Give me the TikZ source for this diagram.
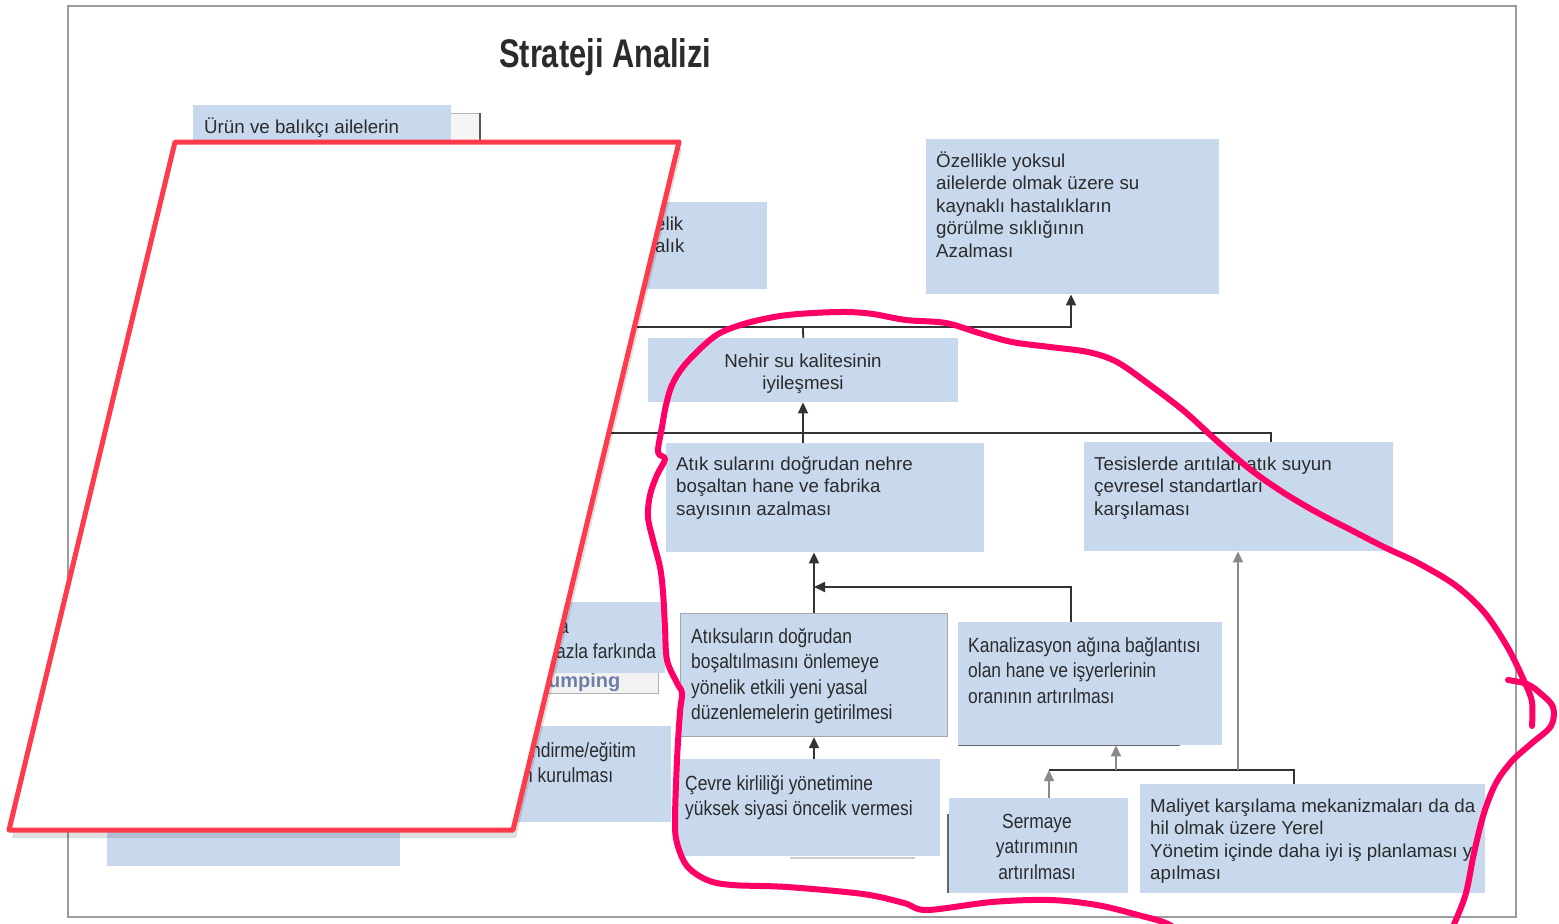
\documentclass[tikz,border=0pt]{standalone}
\usepackage{fontspec}
\setmainfont{Liberation Sans}
\newfontfamily\narrowfont[FakeStretch=0.85]{Liberation Sans}
\newfontfamily\titlefont[FakeStretch=0.77]{Liberation Sans}
\usetikzlibrary{arrows.meta}

% multi-line labels whose baseline is the baseline of their first line
\newcommand\leftrows[1]{\begin{tabular}[t]{@{}l@{}}#1\end{tabular}}
\newcommand\centerrows[1]{\begin{tabular}[t]{@{}c@{}}#1\end{tabular}}

\definecolor{boxblue}{HTML}{C8D9ED}
\definecolor{ink}{HTML}{2B2B2B}
\definecolor{wire}{HTML}{333333}
\definecolor{wirelight}{HTML}{8A8A8A}
\definecolor{framegray}{HTML}{9C9C9C}
\definecolor{markred}{HTML}{FF3A4A}
\definecolor{markpink}{HTML}{FF0066}
\definecolor{btntext}{HTML}{6F7FA6}

\tikzset{
  bluebox/.style={fill=boxblue, draw=none, inner sep=0pt, anchor=north west},
  txt/.style={anchor=base west, inner sep=0pt, text=ink,
              font=\fontsize{18.75}{22.5}\selectfont},
  ctxt/.style={txt, anchor=base},
  ntxt/.style={anchor=base west, inner sep=0pt, text=ink,
               font=\narrowfont\fontsize{20.5}{25.5}\selectfont},
  nctxt/.style={ntxt, anchor=base},
  wireline/.style={draw=wire, line width=1.8pt},
  lightwire/.style={draw=wirelight, line width=1.6pt},
  tip/.style={-{Triangle[length=11pt,width=10pt]}},
  pinkpen/.style={draw=markpink, line width=6pt, line cap=round, line join=round},
}

\begin{document}
\begin{tikzpicture}[x=1pt, y=-1pt]
  \useasboundingbox (0,0) rectangle (1559,924);
  \fill[white] (0,0) rectangle (1559,924);

  % outer frame
  \draw[framegray, line width=2.5pt] (68,6) rectangle (1516,917);

  % title
  \node[anchor=base west, inner sep=0pt, text=ink,
        font=\titlefont\bfseries\fontsize{40}{48}\selectfont] (title) at (499,67) {Strateji Analizi};

  % ---------- left column (partly covered) ----------
  \node[fill=gray!8, draw=gray!55, line width=1pt, inner sep=0pt, anchor=north west,
        minimum width=180pt, minimum height=60pt] (urunback) at (300,113) {};
  \draw[gray!70!black, line width=1.5pt] (480,113) -- (480,175);
  \node[bluebox, minimum width=258pt, minimum height=45pt] (urun) at (193,105) {};
  \node[txt] (urunT) at (204,133) {Ürün ve balıkçı ailelerin};

  \node[bluebox, minimum width=317pt, minimum height=87pt] (elikbox) at (450,202) {};
  \node[txt] (elikT) at (655,230) {\leftrows{elik\\alık}};

  \node[fill=gray!10, draw=gray!60, line width=1.2pt, inner sep=0pt, anchor=north west,
        minimum width=238pt, minimum height=33pt] (dumpbox) at (420,660) {};
  \node[anchor=base west, inner sep=0pt, text=btntext,
        font=\bfseries\fontsize{20}{22}\selectfont] (dumpT) at (548,687) {umping};
  \node[bluebox, minimum width=245pt, minimum height=71pt] (farkbox) at (420,602) {};
  \node[ntxt] (farkT1) at (559,633) {a};
  \node[ntxt] (farkT2) at (556,658) {azla farkında};

  \node[bluebox, minimum width=251pt, minimum height=96pt] (egitbox) at (420,726) {};
  \node[ntxt] (egitT1) at (531,757) {ndirme/eğitim};
  \node[ntxt] (egitT2) at (523,782) {n kurulması};

  \node[bluebox, minimum width=293pt, minimum height=66pt] (lowbox) at (107,800) {};

  % ---------- right part ----------
  \node[bluebox, minimum width=293pt, minimum height=155pt] (ozel) at (926,139) {};
  \node[txt] (ozelT) at (936,167) {\leftrows{Özellikle yoksul\\ailelerde olmak üzere su\\kaynaklı hastalıkların\\görülme sıklığının\\Azalması}};

  \node[bluebox, minimum width=310pt, minimum height=64pt] (nehir) at (648,338) {};
  \node[ctxt] (nehirT) at (803,367) {\centerrows{Nehir su kalitesinin\\iyileşmesi}};

  \node[bluebox, minimum width=318pt, minimum height=109pt] (atik) at (666,443) {};
  \node[txt] (atikT) at (676,470) {\leftrows{Atık sularını doğrudan nehre\\boşaltan hane ve fabrika\\sayısının azalması}};

  \node[bluebox, minimum width=309pt, minimum height=109pt] (tesis) at (1084,442) {};
  \node[txt] (tesisT) at (1094,470) {\leftrows{Tesislerde arıtılan atık suyun\\çevresel standartları\\karşılaması}};

  \node[bluebox, draw=gray!70, line width=1.2pt, minimum width=267pt, minimum height=123pt] (atiksu) at (680,613) {};
  \node[ntxt] (atiksuT) at (691,643) {\leftrows{Atıksuların doğrudan\\boşaltılmasını önlemeye\\yönelik etkili yeni yasal\\düzenlemelerin getirilmesi}};

  \draw[gray!40, line width=1.5pt] (790,858) -- (915,858);
  \node[bluebox, minimum width=262pt, minimum height=97pt] (cevre) at (678,759) {};
  \node[ntxt] (cevreT) at (685,790) {\leftrows{Çevre kirliliği yönetimine\\yüksek siyasi öncelik vermesi}};

  \draw[gray!80!black, line width=1.5pt] (958,745) -- (1180,745);
  \node[bluebox, minimum width=264pt, minimum height=123pt] (kanal) at (958,622) {};
  \node[ntxt] (kanalT) at (968,652) {\leftrows{Kanalizasyon ağına bağlantısı\\olan hane ve işyerlerinin\\oranının artırılması}};

  \draw[gray!80!black, line width=1.5pt] (948,814) -- (948,893);
  \node[bluebox, minimum width=179pt, minimum height=95pt] (sermaye) at (949,798) {};
  \node[nctxt] (sermayeT) at (1037,828) {\centerrows{Sermaye\\yatırımının\\artırılması}};

  \node[bluebox, minimum width=345pt, minimum height=109pt] (maliyet) at (1140,784) {};
  \node[txt] (maliyetT) at (1150,812) {\leftrows{Maliyet karşılama mekanizmaları da da\\hil olmak üzere Yerel\\Yönetim içinde daha iyi iş planlaması y\\apılması}};

  % ---------- connectors ----------
  \coordinate (upL) at (600,327);
  \coordinate (upM) at (803,327);
  \coordinate (upR) at (1071,327);
  \draw[wireline] (nehir.north) -- (upM);
  \draw[wireline, tip] (upL) -- (upR) -- (upR |- ozel.south);

  \coordinate (midL) at (600,433);
  \coordinate (midM) at (803,433);
  \coordinate (midR) at (1271,433);
  \draw[wireline] (midL) -- (midR) -- (midR |- tesis.north);
  \draw[wireline, tip] (midM |- atik.north) -- (midM |- nehir.south);

  \coordinate (lowM) at (814,587);
  \coordinate (lowR) at (1071,587);
  \draw[wireline, tip] (lowM |- atiksu.north) -- (lowM |- atik.south);
  \draw[wireline, tip] (lowR |- kanal.north) -- (lowR) -- (lowM);
  \draw[wireline, tip] (lowM |- cevre.north) -- (lowM |- atiksu.south);

  \coordinate (baseL) at (1049,770);
  \coordinate (baseK) at (1116,770);
  \coordinate (baseT) at (1238,770);
  \coordinate (baseR) at (1294,770);
  \draw[wireline] (baseL) -- (baseR) -- (baseR |- maliyet.north);
  \draw[lightwire, tip] (baseL |- sermaye.north) -- (baseL);
  \draw[lightwire, tip] (baseK) -- (baseK |- kanal.south);
  \draw[lightwire, tip] (baseT) -- (baseT |- tesis.south);

  % ---------- white sheet with red outline ----------
  \fill[black, opacity=0.12] (178,149) -- (682,149) -- (516,838) -- (12,838) -- cycle;
  \filldraw[fill=white, draw=markred, line width=5pt, line join=round]
    (175,142) -- (679,142) -- (513,830) -- (9,830) -- cycle;

  % ---------- freehand pink loop ----------
  \draw[pinkpen] plot[smooth, tension=0.55] coordinates {
    (1532,726) (1532,702) (1525,683) (1508,648) (1484,612) (1455,585)
    (1418,563) (1384,547) (1351,530) (1318,513) (1284,493) (1251,470)
    (1217,441) (1184,411) (1150,385) (1117,362) (1088,352) (1050,347)
    (1012,342) (979,333) (946,323) (906,320) (873,314) (847,312)
    (813,313) (780,316) (747,323) (720,333) (702,347) (683,367)
    (672,385) (666,405) (662,427) (658,452) (665,459) (657,475)
    (650,495) (648,517) (653,540) (660,567) (663,592) (665,627)
    (667,660) (677,683) (682,693) (680,712) (677,760) (675,820)
    (677,843) (687,866) (707,880) (732,885) (787,887) (863,894)
    (904,903) (927,910) (992,902) (1050,900) (1097,905) (1138,915)
    (1168,924) (1190,940)};
  \draw[pinkpen] plot[smooth, tension=0.55] coordinates {
    (1445,945) (1455,922) (1466,893) (1474,853) (1484,813) (1496,783)
    (1512,761) (1532,743) (1551,726) (1553,707) (1540,693) (1527,684)
    (1508,680)};
\end{tikzpicture}
\end{document}
